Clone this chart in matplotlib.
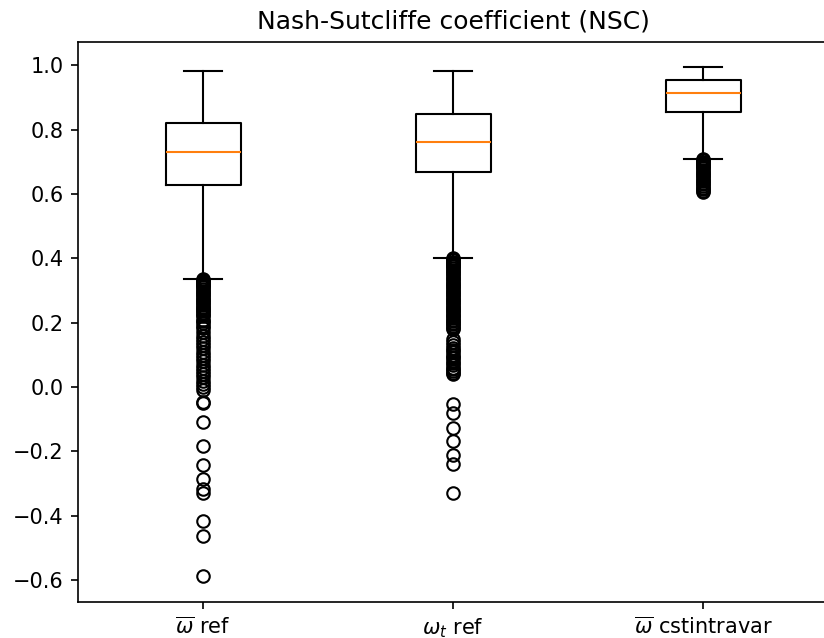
import matplotlib
matplotlib.use('Agg')
import matplotlib.pyplot as plt

# box statistics
labels = [r'$\overline{\omega}$ ref', r'$\omega_t$ ref', r'$\overline{\omega}$ cstintravar']
q1 = [0.627, 0.669, 0.855]
med = [0.730, 0.763, 0.914]
q3 = [0.821, 0.848, 0.953]
whislo = [0.336, 0.401, 0.710]
whishi = [0.982, 0.983, 0.995]

fliers_ref = [0.335, 0.333, 0.33, 0.327, 0.325, 0.322, 0.32, 0.317, 0.315, 0.31,
              0.305, 0.30, 0.295, 0.29, 0.285, 0.28, 0.275, 0.27, 0.265, 0.26,
              0.255, 0.25, 0.245, 0.24, 0.235, 0.23, 0.225, 0.22, 0.21, 0.205,
              0.20, 0.19, 0.185, 0.17, 0.16, 0.15, 0.14, 0.13, 0.12, 0.11, 0.10,
              0.09, 0.08, 0.07, 0.06, 0.05, 0.04, 0.03, 0.02, 0.01, 0.00, -0.01,
              -0.045, -0.05,
              -0.108, -0.183, -0.242, -0.286, -0.317, -0.329, -0.417, -0.463, -0.588]
fliers_wt = [0.40, 0.397, 0.395, 0.39, 0.387, 0.385, 0.38, 0.377, 0.375, 0.37,
             0.365, 0.36, 0.355, 0.35, 0.345, 0.34, 0.335, 0.33, 0.325, 0.32,
             0.315, 0.31, 0.305, 0.30, 0.295, 0.29, 0.285, 0.28, 0.275, 0.27,
             0.265, 0.26, 0.255, 0.25, 0.245, 0.24, 0.235, 0.23, 0.225, 0.22,
             0.215, 0.21, 0.205, 0.20, 0.195, 0.19, 0.185, 0.18, 0.15, 0.14,
             0.13, 0.12, 0.115, 0.11, 0.10, 0.095, 0.09, 0.08, 0.075, 0.07,
             0.06, 0.055, 0.05, 0.045, 0.04,
             -0.054, -0.08, -0.127, -0.168, -0.21, -0.24, -0.33]
fliers_cst = [0.71, 0.707, 0.705, 0.70, 0.697, 0.695, 0.69, 0.687, 0.685, 0.68,
              0.675, 0.67, 0.665, 0.66, 0.655, 0.65, 0.645, 0.64, 0.635, 0.63,
              0.625, 0.62, 0.615, 0.61, 0.607]

fliers = [fliers_ref, fliers_wt, fliers_cst]

stats = []
for i in range(3):
    stats.append({'q1': q1[i], 'med': med[i], 'q3': q3[i],
                  'whislo': whislo[i], 'whishi': whishi[i],
                  'fliers': fliers[i], 'label': labels[i]})

dpi = 150
fig = plt.figure(figsize=(824 / dpi, 638 / dpi), dpi=dpi)
# axes runs past the right edge like in the reference
ax = fig.add_axes([78 / 824, (638 - 601.7) / 638, 750 / 824, (601.7 - 41.5) / 638])
ax.bxp(stats)
ax.set_title('Nash-Sutcliffe coefficient (NSC)', fontsize=12)

fig.savefig('out.png', dpi=dpi)
